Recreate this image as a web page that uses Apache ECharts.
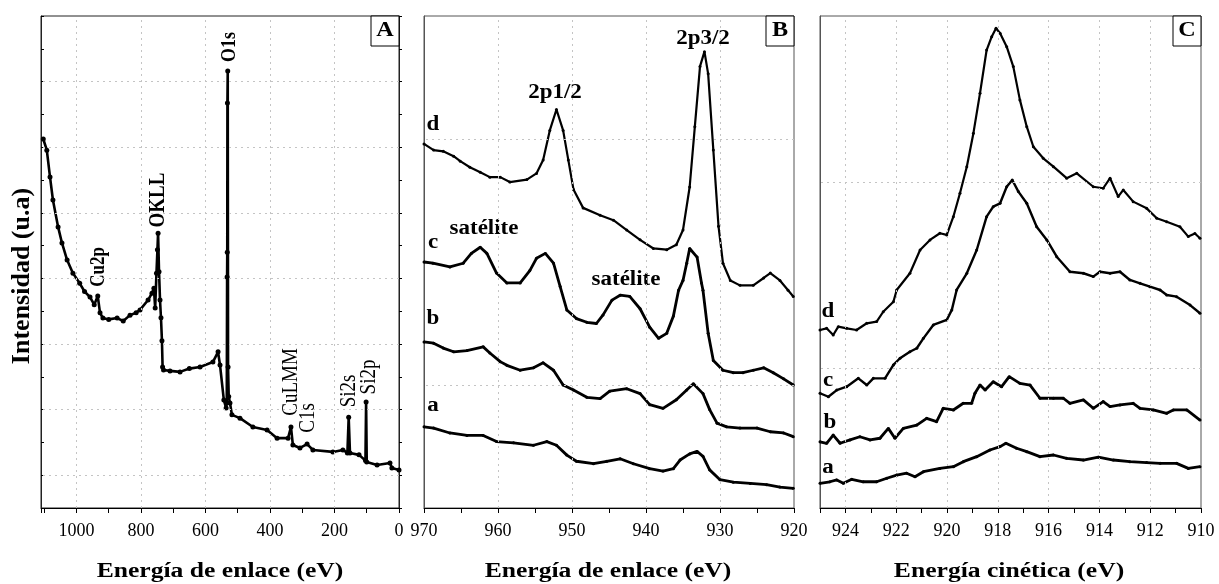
<!DOCTYPE html>
<html>
<head>
<meta charset="utf-8">
<script src="https://cdn.jsdelivr.net/npm/echarts@6/dist/echarts.min.js"></script>
<style>
  html, body { margin: 0; padding: 0; background: #fff; }
  #chart { width: 1219px; height: 584px; }
</style>
</head>
<body>
<div id="chart"></div>
<script>
// Panel A: espectro general [energía de enlace (eV), intensidad (u.a)]
const surveyA = [
  [1103, 11.25], [1092, 10.91], [1082, 10.09], [1073, 9.39], [1057, 8.57], [1045, 8.08],
  [1029, 7.56], [1011, 7.16], [990, 6.85], [975, 6.60], [958, 6.43], [945, 6.20], [934, 6.46],
  [927, 5.95], [918, 5.79], [900, 5.75], [874, 5.79], [855, 5.70], [834, 5.88], [815, 5.95],
  [803, 6.04], [778, 6.34], [766, 6.55], [760, 6.70], [756, 6.10], [752, 7.16], [749, 7.87],
  [747, 8.38], [744, 7.20], [741, 6.34], [738, 5.80], [735, 5.10], [733, 4.30], [730, 4.21],
  [710, 4.18], [679, 4.15], [650, 4.25], [617, 4.30], [577, 4.45], [561, 4.76], [555, 4.36],
  [543, 3.29], [536, 3.05], [534, 3.20], [533, 7.04], [532.5, 7.80], [532, 12.35], [531, 13.32],
  [530, 4.30], [528, 3.40], [524, 3.20], [518, 2.84], [493, 2.74], [453, 2.47], [409, 2.38],
  [378, 2.13], [344, 2.13], [335, 2.47], [329, 1.92], [307, 1.83], [285, 1.95], [267, 1.77],
  [205, 1.71], [174, 1.77], [160, 1.68], [156, 2.77], [152, 1.68], [124, 1.62], [104, 1.45],
  [102, 3.23], [100, 1.40], [68, 1.31], [28, 1.37], [22, 1.22], [0, 1.16]
];

// Panel B: Cu 2p, muestras a-d
const cu2pA = [
  [970.0, 0.66], [968.7, 0.65], [966.5, 0.61], [964.2, 0.59], [962.0, 0.59], [960.2, 0.54],
  [957.9, 0.53], [955.2, 0.51], [953.4, 0.54], [952.1, 0.51], [950.7, 0.43], [949.4, 0.38],
  [947.1, 0.36], [945.3, 0.38], [943.5, 0.40], [941.7, 0.36], [939.5, 0.32], [937.7, 0.30],
  [936.3, 0.32], [935.4, 0.39], [934.1, 0.44], [933.1, 0.46], [932.3, 0.42], [931.4, 0.31],
  [930.0, 0.23], [928.2, 0.21], [925.9, 0.20], [923.7, 0.19], [921.9, 0.17], [920.1, 0.16]
];
const cu2pB = [
  [970.0, 1.35], [968.7, 1.34], [967.4, 1.30], [966.0, 1.27], [964.2, 1.28], [962.0, 1.31],
  [961.1, 1.26], [959.7, 1.19], [958.8, 1.16], [957.0, 1.12], [955.2, 1.14], [953.9, 1.18],
  [952.5, 1.12], [951.2, 1.00], [949.8, 0.96], [948.0, 0.90], [946.2, 0.89], [944.9, 0.95],
  [942.6, 0.97], [940.8, 0.93], [939.5, 0.84], [937.7, 0.81], [935.9, 0.88], [934.5, 0.96],
  [933.6, 1.01], [932.3, 0.93], [931.4, 0.80], [930.4, 0.69], [929.1, 0.66], [927.3, 0.65],
  [925.0, 0.65], [923.2, 0.62], [921.4, 0.61], [920.1, 0.58]
];
const cu2pC = [
  [970.0, 2.00], [968.8, 1.99], [966.5, 1.96], [964.7, 1.99], [963.6, 2.07], [962.4, 2.12],
  [961.5, 2.07], [960.2, 1.91], [958.8, 1.83], [957.0, 1.83], [955.7, 1.93], [954.8, 2.03],
  [953.6, 2.07], [952.5, 1.99], [951.6, 1.80], [950.7, 1.61], [949.4, 1.54], [948.0, 1.51],
  [946.7, 1.50], [945.8, 1.57], [944.6, 1.69], [943.5, 1.73], [942.2, 1.72], [940.8, 1.62],
  [939.5, 1.47], [938.3, 1.38], [937.2, 1.42], [936.3, 1.56], [935.6, 1.77], [935.0, 1.85],
  [934.5, 1.99], [934.1, 2.11], [933.1, 2.04], [932.5, 1.83], [932.3, 1.77], [931.6, 1.42],
  [930.9, 1.20], [929.6, 1.12], [928.2, 1.10], [926.9, 1.10], [925.5, 1.12], [924.1, 1.14],
  [922.8, 1.10], [921.4, 1.05], [920.1, 1.00]
];
const cu2pD = [
  [970.0, 2.96], [968.7, 2.91], [967.4, 2.90], [966.0, 2.86], [965.1, 2.82], [963.8, 2.77],
  [962.4, 2.73], [961.1, 2.69], [959.7, 2.69], [958.4, 2.65], [956.1, 2.67], [954.8, 2.72],
  [953.9, 2.83], [953.0, 3.07], [952.1, 3.24], [951.2, 3.07], [950.5, 2.83], [949.8, 2.59],
  [948.5, 2.44], [946.2, 2.38], [944.4, 2.34], [942.6, 2.26], [940.8, 2.18], [939.0, 2.11],
  [937.2, 2.10], [935.9, 2.14], [935.0, 2.26], [934.1, 2.61], [933.4, 3.10], [932.7, 3.59],
  [932.1, 3.71], [931.6, 3.53], [930.9, 2.91], [930.2, 2.29], [929.6, 1.99], [928.6, 1.85],
  [927.3, 1.81], [925.5, 1.81], [924.1, 1.87], [923.2, 1.91], [921.9, 1.85], [920.8, 1.77],
  [920.1, 1.72]
];

// Panel C: espectro Auger, energía cinética (eV)
const augerA = [
  [925.0, 0.133], [924.61, 0.141], [924.34, 0.151], [924.08, 0.133], [923.75, 0.154],
  [923.30, 0.141], [922.77, 0.141], [922.37, 0.160], [921.98, 0.177], [921.59, 0.187],
  [921.26, 0.168], [920.93, 0.195], [920.28, 0.213], [919.75, 0.222], [919.36, 0.249],
  [918.83, 0.276], [918.31, 0.312], [917.91, 0.330], [917.68, 0.348], [917.26, 0.321],
  [916.86, 0.303], [916.34, 0.276], [915.81, 0.285], [915.29, 0.267], [914.63, 0.258],
  [914.04, 0.273], [913.45, 0.258], [912.80, 0.249], [912.14, 0.244], [911.61, 0.240],
  [910.96, 0.240], [910.50, 0.213], [910.04, 0.222]
];
const augerB = [
  [925.0, 0.356], [924.74, 0.348], [924.48, 0.392], [924.21, 0.348], [923.82, 0.366],
  [923.43, 0.383], [923.03, 0.366], [922.64, 0.375], [922.31, 0.428], [922.05, 0.375],
  [921.72, 0.428], [921.19, 0.446], [920.80, 0.482], [920.41, 0.464], [920.15, 0.536],
  [919.75, 0.527], [919.36, 0.563], [919.03, 0.563], [918.90, 0.617], [918.70, 0.661],
  [918.50, 0.634], [918.18, 0.679], [917.85, 0.652], [917.55, 0.706], [917.13, 0.670],
  [916.73, 0.661], [916.34, 0.590], [915.81, 0.590], [915.42, 0.590], [915.16, 0.563],
  [914.63, 0.581], [914.24, 0.536], [913.85, 0.572], [913.58, 0.545], [913.19, 0.554],
  [912.67, 0.563], [912.40, 0.536], [911.88, 0.527], [911.35, 0.509], [911.09, 0.527],
  [910.56, 0.527], [910.04, 0.473]
];
const augerC = [
  [925.0, 0.617], [924.67, 0.598], [924.34, 0.634], [923.95, 0.652], [923.49, 0.697],
  [923.16, 0.661], [922.90, 0.697], [922.44, 0.697], [922.11, 0.769], [921.85, 0.805],
  [921.46, 0.840], [921.19, 0.859], [920.93, 0.912], [920.54, 0.984], [920.01, 1.011],
  [919.81, 1.065], [919.62, 1.172], [919.22, 1.262], [918.83, 1.387], [918.44, 1.566],
  [918.18, 1.620], [917.91, 1.638], [917.65, 1.727], [917.43, 1.763], [917.19, 1.701],
  [916.86, 1.638], [916.47, 1.512], [916.07, 1.441], [915.68, 1.351], [915.16, 1.270],
  [914.63, 1.262], [914.24, 1.244], [913.98, 1.270], [913.58, 1.262], [913.19, 1.270],
  [912.80, 1.226], [912.40, 1.208], [912.01, 1.190], [911.61, 1.172], [911.35, 1.145],
  [910.96, 1.136], [910.43, 1.091], [910.04, 1.047]
];
const augerD = [
  [925.0, 0.957], [924.74, 0.966], [924.48, 0.930], [924.28, 0.975], [923.95, 0.966],
  [923.56, 0.957], [923.16, 0.993], [922.77, 1.002], [922.51, 1.055], [922.11, 1.109],
  [921.98, 1.172], [921.46, 1.262], [921.06, 1.387], [920.67, 1.441], [920.28, 1.477],
  [920.01, 1.468], [919.75, 1.566], [919.49, 1.692], [919.22, 1.835], [918.96, 2.015],
  [918.70, 2.230], [918.44, 2.462], [918.24, 2.534], [918.07, 2.579], [917.91, 2.552],
  [917.65, 2.480], [917.39, 2.373], [917.13, 2.194], [916.86, 2.050], [916.60, 1.942],
  [916.21, 1.880], [915.81, 1.835], [915.29, 1.773], [914.89, 1.799], [914.24, 1.727],
  [913.85, 1.719], [913.58, 1.773], [913.26, 1.674], [913.06, 1.710], [912.67, 1.647],
  [912.14, 1.611], [911.74, 1.558], [911.35, 1.539], [910.83, 1.512], [910.50, 1.459],
  [910.24, 1.476], [910.04, 1.450]
];

// líneas de rejilla (punteadas)
const gridAx = [200, 400, 600, 800, 1000];
const gridAy = [1, 3, 5, 7, 9, 11, 13];
const gridBx = [930, 940, 950, 960];
const gridBy = [1, 3];
const gridCx = [912, 914, 916, 918, 920, 922, 924];
const gridCy = [0.75, 1.75];

const serif = '"Liberation Serif", "Times New Roman", serif';
const ink = '#000';

const chart = echarts.init(document.getElementById('chart'));

function xAxisFor(grid, min, max, step, labelEvery) {
  return {
    type: 'value', gridIndex: grid, min: min, max: max, interval: step, inverse: true,
    axisLine: { show: true, onZero: false, lineStyle: { color: ink, width: 1 } },
    axisTick: { show: true, length: 5, lineStyle: { color: ink } },
    axisLabel: {
      color: ink, fontFamily: serif, fontSize: 18, margin: 14,
      formatter: v => (Math.round(v) % labelEvery === 0 && Math.round(v) === v) ? String(v) : ''
    },
    splitLine: { show: false }
  };
}

function yAxisFor(grid, max, ticks, position, inside, color) {
  return {
    type: 'value', gridIndex: grid, min: 0, max: max, interval: ticks ? 1 : null,
    position: position,
    axisLine: { show: true, onZero: false, lineStyle: { color: color } },
    axisTick: { show: ticks, inside: inside, length: 3, lineStyle: { color: ink } },
    axisLabel: { show: false },
    splitLine: { show: false }
  };
}

function gridSeries(xi, yi, xs, ys) {
  return {
    type: 'line', xAxisIndex: xi, yAxisIndex: yi, data: [], z: 1, silent: true,
    markLine: {
      silent: true, symbol: ['none', 'none'], label: { show: false }, animation: false,
      lineStyle: { type: [2, 4], color: '#c4c4c4', width: 1 },
      data: xs.map(v => ({ xAxis: v })).concat(ys.map(v => ({ yAxis: v })))
    }
  };
}

function curve(xi, yi, data, width, size) {
  return {
    type: 'line', xAxisIndex: xi, yAxisIndex: yi, data: data, z: 3,
    symbol: 'circle', symbolSize: size, showSymbol: true,
    lineStyle: { color: ink, width: width }, itemStyle: { color: ink },
    animation: false
  };
}

function label(text, x, y, size, bold, rotate, stretch) {
  return {
    type: 'text', x: x, y: y, rotation: rotate ? Math.PI / 2 : 0,
    scaleX: rotate ? 1 : stretch, scaleY: rotate ? stretch : 1,
    style: {
      text: text, fill: ink, fontFamily: serif, fontSize: size,
      fontWeight: bold ? 'bold' : 'normal', textAlign: 'center', textVerticalAlign: 'middle'
    }
  };
}

function panelBox(letter, right) {
  return [
    { type: 'rect', shape: { x: right - 28, y: 16, width: 28, height: 30 },
      style: { fill: '#fff', stroke: ink, lineWidth: 1 }, z: 10 },
    { type: 'text', x: right - 14, y: 31, scaleX: 1.15, z: 11,
      style: { text: letter, fill: ink, fontFamily: serif, fontSize: 21, fontWeight: 'bold',
               textAlign: 'center', textVerticalAlign: 'middle' } }
  ];
}

const option = {
  backgroundColor: '#fff',
  animation: false,
  grid: [
    { left: 41, top: 16, width: 358, height: 492, show: true, borderColor: '#222', borderWidth: 1 },
    { left: 424, top: 16, width: 370, height: 492, show: true, borderColor: '#555', borderWidth: 1 },
    { left: 820, top: 16, width: 381, height: 492, show: true, borderColor: '#555', borderWidth: 1 }
  ],
  xAxis: [
    xAxisFor(0, 0, 1110, 100, 200),
    xAxisFor(1, 920, 970, 5, 10),
    xAxisFor(2, 910, 925, 1, 2)
  ],
  yAxis: [
    yAxisFor(0, 15, true, 'left', true, '#222'),
    yAxisFor(0, 15, true, 'right', false, '#222'),
    yAxisFor(1, 4, false, 'left', false, '#555'),
    yAxisFor(2, 2.645, false, 'left', false, '#555')
  ],
  series: [
    gridSeries(0, 0, gridAx, gridAy),
    gridSeries(1, 2, gridBx, gridBy),
    gridSeries(2, 3, gridCx, gridCy),
    curve(0, 0, surveyA, 2.6, 5),
    curve(1, 2, cu2pA, 2.8, 3),
    curve(1, 2, cu2pB, 2.8, 3),
    curve(1, 2, cu2pC, 2.8, 3),
    curve(1, 2, cu2pD, 2.2, 3),
    curve(2, 3, augerA, 2.8, 3),
    curve(2, 3, augerB, 2.8, 3),
    curve(2, 3, augerC, 2.4, 3),
    curve(2, 3, augerD, 2.2, 3)
  ],
  graphic: [
    // títulos de ejes
    label('Intensidad (u.a)', 22, 276, 26, true, true, 1),
    label('Energía de enlace (eV)', 220, 572, 20, true, false, 1.28),
    label('Energía de enlace (eV)', 608, 572, 20, true, false, 1.28),
    label('Energía cinética (eV)', 1009, 572, 20, true, false, 1.28),
    // picos del panel A
    label('O1s', 229, 47, 18, true, true, 1.2),
    label('OKLL', 158, 200, 19, true, true, 1.2),
    label('Cu2p', 99, 267, 17, true, true, 1.2),
    label('CuLMM', 291, 382, 19, false, true, 1.2),
    label('C1s', 308, 418, 19, false, true, 1.2),
    label('Si2s', 349, 391, 19, false, true, 1.2),
    label('Si2p', 369, 377, 19, false, true, 1.2),
    // panel B
    label('2p1/2', 555, 93, 20, true, false, 1.15),
    label('2p3/2', 703, 39, 20, true, false, 1.15),
    label('satélite', 484, 229, 20, true, false, 1.15),
    label('satélite', 626, 280, 20, true, false, 1.15),
    label('d', 433, 125, 20, true, false, 1.15),
    label('c', 433, 243, 20, true, false, 1.15),
    label('b', 433, 319, 20, true, false, 1.15),
    label('a', 433, 406, 20, true, false, 1.15),
    // panel C
    label('d', 828, 312, 20, true, false, 1.15),
    label('c', 828, 381, 20, true, false, 1.15),
    label('b', 830, 423, 20, true, false, 1.15),
    label('a', 828, 468, 20, true, false, 1.15)
  ].concat(panelBox('A', 399), panelBox('B', 794), panelBox('C', 1201))
};

chart.setOption(option);
</script>
</body>
</html>
